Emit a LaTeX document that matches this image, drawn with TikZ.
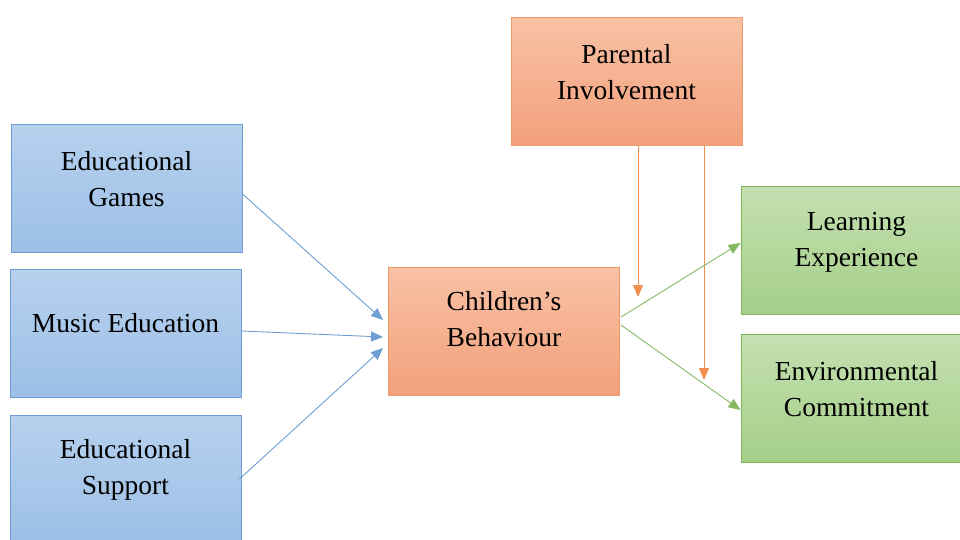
\documentclass[tikz,border=0pt]{standalone}
\usepackage{fontspec}
\setmainfont{Liberation Serif}
\usetikzlibrary{arrows.meta}
\definecolor{bluetop}{HTML}{B7D1EE}
\definecolor{bluebot}{HTML}{9CBFE6}
\definecolor{blueline}{HTML}{6E9ED3}
\definecolor{bluearr}{HTML}{5B9BD5}
\definecolor{ortop}{HTML}{F8C1A5}
\definecolor{orbot}{HTML}{F3A07C}
\definecolor{orline}{HTML}{EE9A68}
\definecolor{orarr}{HTML}{ED7D31}
\definecolor{grtop}{HTML}{C4E0B1}
\definecolor{grbot}{HTML}{A5CF89}
\definecolor{grline}{HTML}{7FB35A}
\definecolor{grarr}{HTML}{70AD47}
\tikzset{
  x=1pt, y=-1pt,
  boxbase/.style={rectangle, minimum width=231pt, minimum height=128pt, inner sep=0pt, line width=1pt},
  bluebox/.style={boxbase, draw=blueline, top color=bluetop, bottom color=bluebot},
  orbox/.style={boxbase, draw=orline, top color=ortop, bottom color=orbot},
  grbox/.style={boxbase, draw=grline, top color=grtop, bottom color=grbot},
  txt/.style={align=center, font=\fontsize{27.5}{36}\selectfont, text=black, inner sep=0pt},
  tip/.style={-{Triangle[length=12pt,width=10pt]}, line width=0.9pt},
  bluearrow/.style={tip, color=blueline},
  orarrow/.style={tip, color=orarr!85},
  grarrow/.style={tip, color=grarr!85},
}
\begin{document}
\begin{tikzpicture}
\useasboundingbox (0,0) rectangle (960,539);
\begin{scope}
\clip (0,0) rectangle (960,539);
% boxes
\node[bluebox] (g) at (126.5,188) {};
\node[txt] (gT) at ([yshift=9pt]g.center) {Educational\\Games};
\node[bluebox] (m) at (125.5,333) {};
\node[txt] (mT) at ([yshift=10pt]m.center) {Music Education};
\node[bluebox] (s) at (125.5,479) {};
\node[txt] (sT) at ([yshift=9.5pt]s.center) {Educational\\Support};
\node[orbox] (c) at (504,331.5) {};
\node[txt] (cT) at ([yshift=12pt]c.center) {Children’s\\Behaviour};
\node[orbox] (p) at (626.5,81) {};
\node[txt] (pT) at ([yshift=9pt]p.center) {Parental\\Involvement};
\node[grbox] (le) at (856.5,250) {};
\node[txt] (leT) at ([yshift=8pt]le.center) {Learning\\Experience};
\node[grbox] (ec) at (856.5,398) {};
\node[txt] (ecT) at ([yshift=9pt]ec.center) {Environmental\\Commitment};
% connectors
\coordinate (t1) at (638,297);
\coordinate (t2) at (704,380);
\draw[bluearrow] ([yshift=-6pt]g.east) -- ([xshift=-5pt,yshift=11.5pt]c.west);
\draw[bluearrow] ([yshift=2pt]m.east) -- ([xshift=-5pt,yshift=-5.5pt]c.west);
\draw[bluearrow] ([xshift=-2pt]s.east) -- ([xshift=-5pt,yshift=-16.5pt]c.west);
\draw[orarrow] ([xshift=11.5pt]p.south) -- (t1);
\draw[orarrow] ([xshift=77.5pt]p.south) -- (t2);
\draw[grarrow] ([xshift=1pt,yshift=14.5pt]c.east) -- ([yshift=7pt]le.west);
\draw[grarrow] ([xshift=1pt,yshift=6.5pt]c.east) -- ([yshift=-12pt]ec.west);
\end{scope}
\end{tikzpicture}
\end{document}
